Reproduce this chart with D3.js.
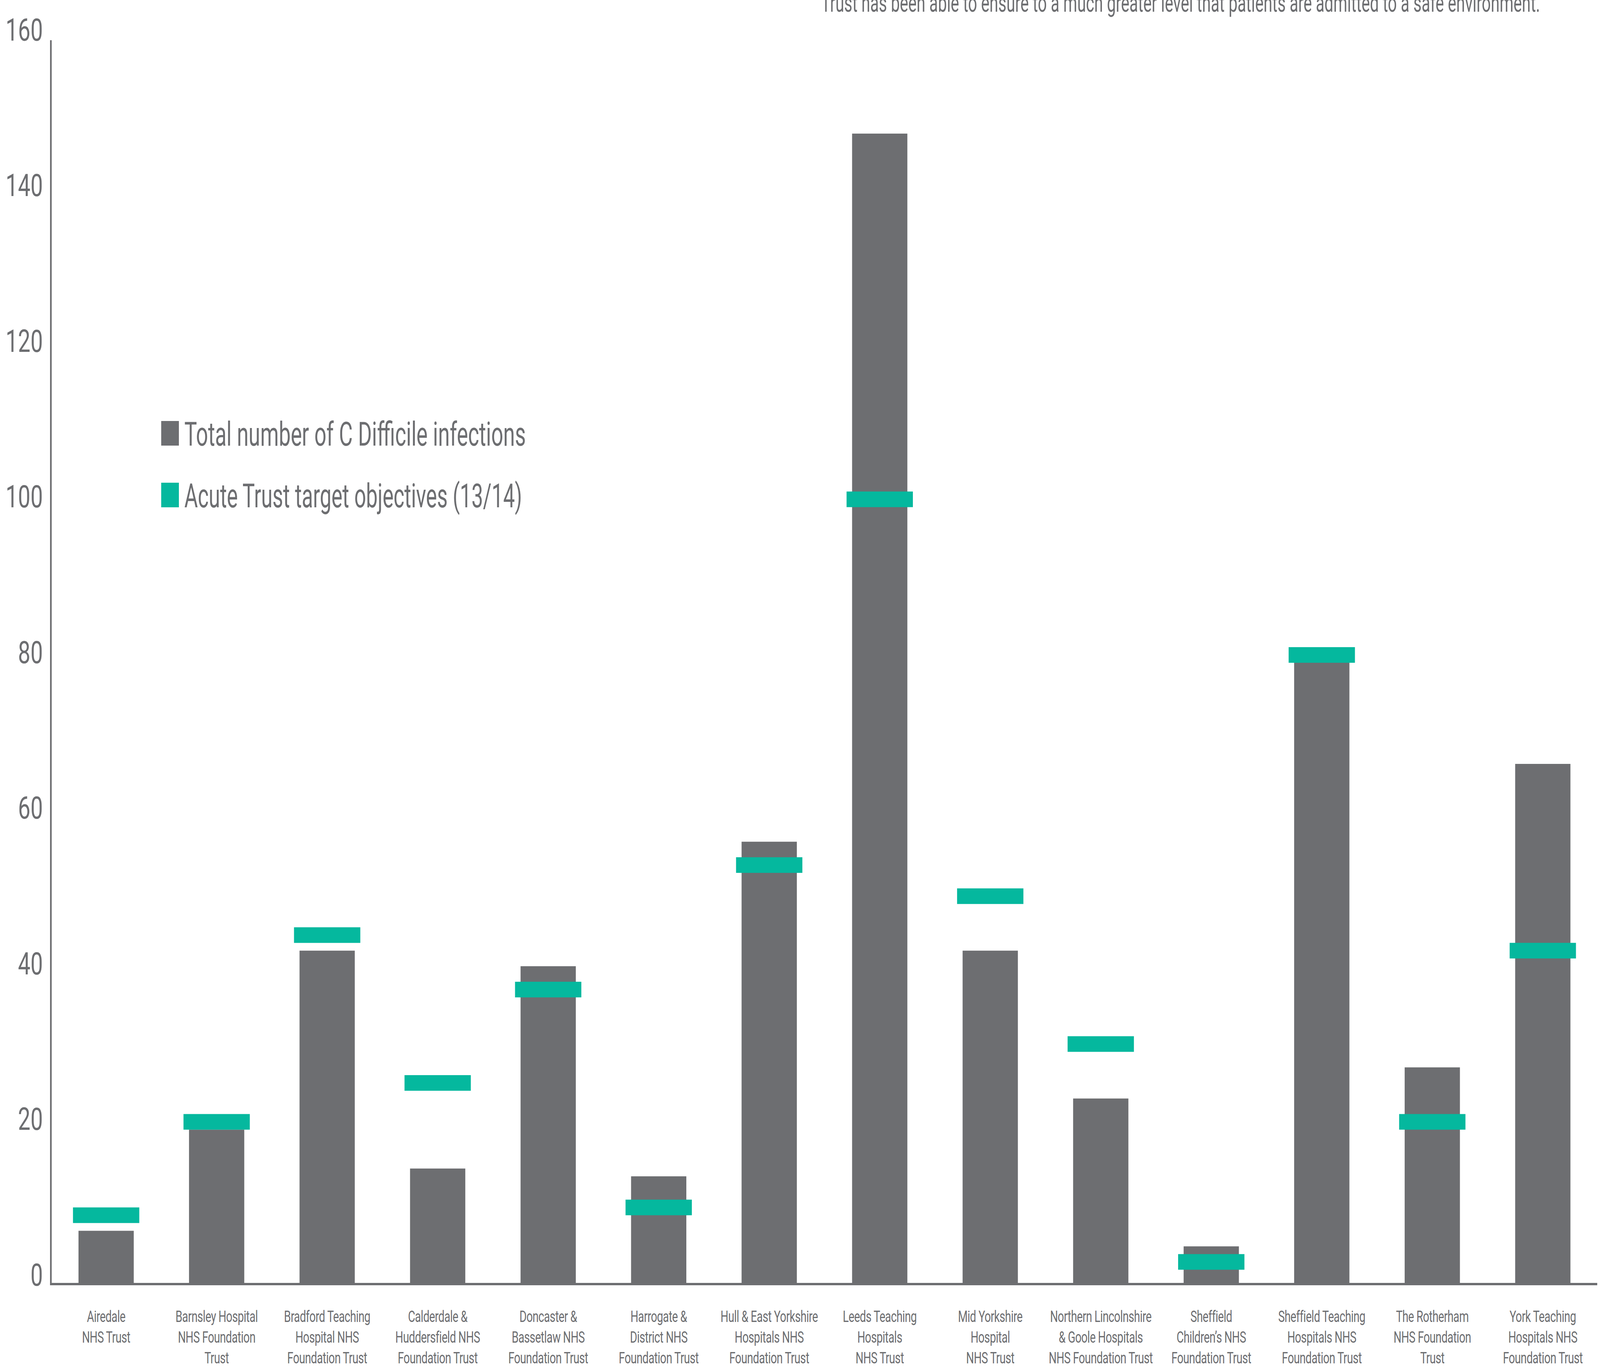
<!DOCTYPE html>
<html>
<head>
<meta charset="utf-8">
<script src="https://cdn.jsdelivr.net/npm/d3@7"></script>
<style>
  html, body { margin: 0; background: #fff; overflow: hidden; }
  svg { display: block; }
  text { font-family: Roboto, "Liberation Sans", sans-serif; fill: #6d6e71; }
</style>
</head>
<body>
<svg width="5787" height="3508"></svg>
<script>
// trust names, one entry per bar; "|" marks the line breaks of the axis label
let trusts = [
  "Airedale|NHS Trust",
  "Barnsley Hospital|NHS Foundation|Trust",
  "Bradford Teaching|Hospital NHS|Foundation Trust",
  "Calderdale &|Huddersfield NHS|Foundation Trust",
  "Doncaster &|Bassetlaw NHS|Foundation Trust",
  "Harrogate &|District NHS|Foundation Trust",
  "Hull & East Yorkshire|Hospitals NHS|Foundation Trust",
  "Leeds Teaching|Hospitals|NHS Trust",
  "Mid Yorkshire|Hospital|NHS Trust",
  "Northern Lincolnshire|& Goole Hospitals|NHS Foundation Trust",
  "Sheffield|Children\u2019s NHS|Foundation Trust",
  "Sheffield Teaching|Hospitals NHS|Foundation Trust",
  "The Rotherham|NHS Foundation|Trust",
  "York Teaching|Hospitals NHS|Foundation Trust"
];
let infections = [7, 20, 43, 15, 41, 14, 57, 148, 43, 24, 5, 80, 28, 67];
let targets    = [9, 21, 45, 26, 38, 10, 54, 101, 50, 31, 3, 81, 21, 43];
let yTicks = [0, 20, 40, 60, 80, 100, 120, 140, 160];
let seriesNames = ["Total number of C Difficile infections", "Acute Trust target objectives (13/14)"];
let note = "Trust has been able to ensure to a much greater level that patients are admitted to a safe environment.";

let grey = "#6d6e71", teal = "#05b89e";

let svg = d3.select("svg"),
    W = +svg.attr("width"), H = +svg.attr("height");

// the window may come out narrower than asked for, so fit the drawing to it
svg.attr("viewBox", "0 0 " + W + " " + H)
   .attr("preserveAspectRatio", "none")
   .attr("width", window.innerWidth || W)
   .attr("height", window.innerHeight || H);

let margin = {top: 103, right: 7, bottom: 217, left: 184},
    width = W - margin.left - margin.right,
    height = H - margin.top - margin.bottom,
    g = svg.append("g").attr("transform", "translate(" + margin.left + "," + margin.top + ")");

let x = d3.scaleBand()
    .domain(trusts)
    .range([0, width])
    .paddingInner(0.5)
    .paddingOuter(0.25);

let y = d3.scaleLinear()
    .domain([0, 160])
    .range([height, 0]);

// bars
g.append("g")
  .selectAll("rect")
  .data(trusts)
  .enter().append("rect")
    .attr("x", d => x(d))
    .attr("y", (d, i) => y(infections[i]))
    .attr("width", x.bandwidth())
    .attr("height", (d, i) => height - y(infections[i]))
    .attr("fill", grey);

// target markers
let over = x.bandwidth() * 0.1;
g.append("g")
  .selectAll("rect")
  .data(trusts)
  .enter().append("rect")
    .attr("x", d => x(d) - over)
    .attr("y", (d, i) => y(targets[i]) - 20)
    .attr("width", x.bandwidth() + 2 * over)
    .attr("height", 40)
    .attr("fill", teal);

// y axis
let yAxis = g.append("g")
    .call(d3.axisLeft(y).tickValues(yTicks).tickSize(0).tickPadding(29));
yAxis.select(".domain").remove();
yAxis.selectAll("text")
    .attr("dy", 0)
    .attr("font-size", 80)
    .attr("fill", grey);

// x axis labels
let xAxis = g.append("g")
    .attr("transform", "translate(0," + height + ")")
    .call(d3.axisBottom(x).tickSize(0));
xAxis.select(".domain").remove();
xAxis.selectAll("text")
    .attr("y", 94)
    .attr("dy", 0)
    .attr("font-size", 40)
    .attr("letter-spacing", -0.8)
    .attr("fill", grey)
    .text(null)
    .each(function(d) {
      let t = d3.select(this);
      d.split("|").forEach((line, i) => {
        t.append("tspan").attr("x", 0).attr("dy", i ? 53 : 0).text(line);
      });
    });

// axis lines
g.append("line")
    .attr("x1", 0).attr("x2", 0)
    .attr("y1", 0).attr("y2", height)
    .attr("stroke", grey).attr("stroke-width", 6);
g.append("line")
    .attr("x1", -3).attr("x2", width - 3)
    .attr("y1", height - 3).attr("y2", height - 3)
    .attr("stroke", grey).attr("stroke-width", 6);

// legend
let legend = svg.append("g")
  .selectAll("g")
  .data(seriesNames)
  .enter().append("g")
    .attr("transform", (d, i) => "translate(583," + (1078 + i * 158) + ")");

legend.append("rect")
    .attr("width", 64)
    .attr("height", 63)
    .attr("fill", (d, i) => i ? teal : grey);

legend.append("text")
    .attr("x", 84)
    .attr("y", 63)
    .attr("font-size", 86)
    .attr("textLength", (d, i) => i ? 1221 : 1235)
    .attr("lengthAdjust", "spacingAndGlyphs")
    .text(d => d);

// note cut off at the top edge, as in the original
svg.append("text")
    .attr("x", 2970)
    .attr("y", 30)
    .attr("font-size", 64)
    .attr("textLength", 2600)
    .attr("lengthAdjust", "spacingAndGlyphs")
    .text(note);
</script>
</body>
</html>
